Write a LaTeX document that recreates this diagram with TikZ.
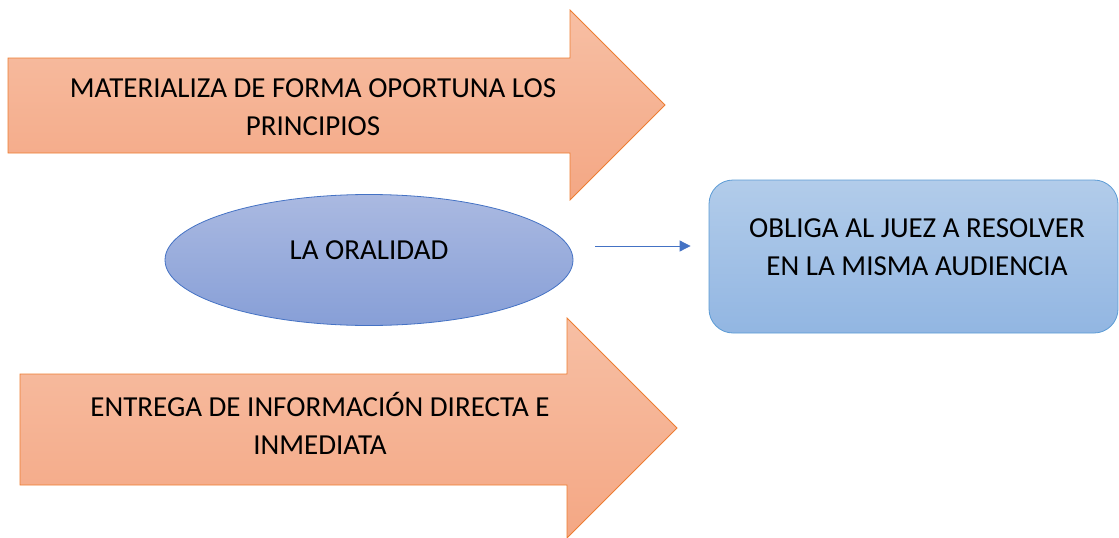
\documentclass[tikz,border=0pt]{standalone}
\usepackage{fontspec}
\setmainfont{Carlito}
\usetikzlibrary{shapes.geometric, arrows.meta}

\definecolor{arrowline}{HTML}{ED7D31}
\definecolor{arrowtop}{HTML}{F7BFA4}
\definecolor{arrowbot}{HTML}{F4A784}
\definecolor{ovalline}{HTML}{4472C4}
\definecolor{ovaltop}{HTML}{AAB9E1}
\definecolor{ovalbot}{HTML}{879FD7}
\definecolor{boxline}{HTML}{5B9BD5}
\definecolor{boxtop}{HTML}{B2CCEA}
\definecolor{boxbot}{HTML}{92B6E2}

\tikzset{
  bigarrow/.style={draw=arrowline, line width=0.8pt, top color=arrowtop, bottom color=arrowbot},
  oval/.style={ellipse, draw=ovalline, line width=0.8pt, top color=ovaltop, bottom color=ovalbot,
    minimum width=408pt, minimum height=131pt, inner sep=0pt},
  resultbox/.style={draw=boxline, line width=0.8pt, rounded corners=24pt, top color=boxtop, bottom color=boxbot,
    minimum width=409pt, minimum height=153pt, inner sep=0pt},
  txt/.style={align=center, font=\fontsize{29}{38}\selectfont, inner sep=0pt}
}

\begin{document}
\begin{tikzpicture}[x=1pt, y=-1pt]
  \useasboundingbox (0,0) rectangle (1119,538);

  % upper arrow
  \draw[bigarrow] (8,58) -- (570,58) -- (570,10) -- (665,105) -- (570,200) -- (570,153) -- (8,153) -- cycle;
  \node[txt] (princ) at (313,107) {MATERIALIZA DE FORMA OPORTUNA LOS\\PRINCIPIOS};

  % lower arrow
  \draw[bigarrow] (20,374) -- (567,374) -- (567,318) -- (677,428) -- (567,538) -- (567,485) -- (20,485) -- cycle;
  \node[txt] (info) at (320,423) {ENTREGA DE INFORMACIÓN DIRECTA E\\INMEDIATA};

  % center ellipse and result box
  \node[oval] (oral) at (369,260) {};
  \node[txt] (oraltxt) at (369,250) {LA ORALIDAD};
  \node[resultbox] (juez) at (913.5,256.5) {};
  \node[txt] (jueztxt) at (917,247) {OBLIGA AL JUEZ A RESOLVER\\EN LA MISMA AUDIENCIA};

  \coordinate (c1) at ([yshift=14pt]oral.east); % connector start
  \draw[-{Triangle[length=11pt, width=11pt]}, ovalline, line width=0.8pt, shorten <=22pt, shorten >=18pt]
    (c1) -- (c1 -| juez.west);
\end{tikzpicture}
\end{document}
